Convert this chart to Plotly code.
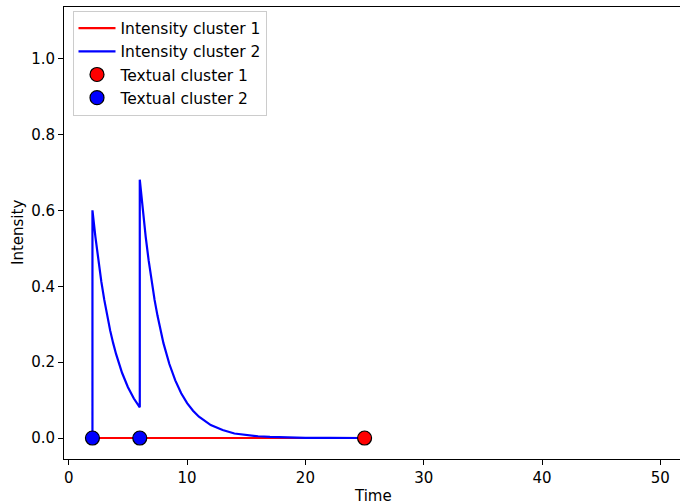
import plotly.graph_objects as go

# ---- data ----
red_time = [2, 25]
red_intensity = [0.0, 0.0]

blue_time = [2, 2, 2.25, 2.5, 2.75, 3, 3.25, 3.5, 3.75, 4, 4.5, 5, 5.5, 6,
             6, 6.25, 6.5, 6.75, 7, 7.25, 7.5, 7.75, 8, 8.5, 9, 9.5, 10, 10.5,
             11, 12, 13, 14, 15, 16, 17, 18, 20, 22, 25]
blue_intensity = [0.0, 0.600, 0.530, 0.467, 0.412, 0.364, 0.321, 0.283, 0.250,
                  0.221, 0.172, 0.134, 0.104, 0.081,
                  0.681, 0.601, 0.530, 0.468, 0.413, 0.364, 0.322, 0.284, 0.250,
                  0.195, 0.152, 0.118, 0.092, 0.072, 0.056, 0.034, 0.021, 0.012,
                  0.0075, 0.0046, 0.0028, 0.0017, 0.0006, 0.0002, 0.0]

text1_time = [25]
text1_val = [0.0]
text2_time = [2, 6]
text2_val = [0.0, 0.0]

x_ticks = [0, 10, 20, 30, 40, 50]
y_ticks = [0.0, 0.2, 0.4, 0.6, 0.8, 1.0]

FONT = "DejaVu Sans"
FS = 15

fig = go.Figure()
fig.add_trace(go.Scatter(x=red_time, y=red_intensity, mode="lines",
                         line=dict(color="#ff0000", width=2.2),
                         name="Intensity cluster 1", legendgroup="a"))
fig.add_trace(go.Scatter(x=blue_time, y=blue_intensity, mode="lines",
                         line=dict(color="#0000ff", width=2.2),
                         name="Intensity cluster 2", legendgroup="b"))
fig.add_trace(go.Scatter(x=text1_time, y=text1_val, mode="markers",
                         marker=dict(color="#ff0000", size=14,
                                     line=dict(color="black", width=1.2)),
                         name="Textual cluster 1", legendgroup="c"))
fig.add_trace(go.Scatter(x=text2_time, y=text2_val, mode="markers",
                         marker=dict(color="#0000ff", size=14,
                                     line=dict(color="black", width=1.2)),
                         name="Textual cluster 2", legendgroup="d"))

fig.update_layout(
    width=680, height=504,
    margin=dict(l=63.5, r=0, t=7, b=44.7),
    paper_bgcolor="white", plot_bgcolor="white",
    font=dict(family=FONT, size=FS, color="black"),
    showlegend=True,
    legend=dict(x=0.0138, y=0.992, xanchor="left", yanchor="top",
                bgcolor="rgba(255,255,255,0.8)", bordercolor="#cccccc",
                borderwidth=1, font=dict(family=FONT, size=15.5),
                traceorder="grouped", tracegroupgap=0, itemwidth=37),
    xaxis=dict(range=[-0.405, 51.66], tickvals=x_ticks, ticks="outside",
               ticklen=5, tickwidth=1, tickcolor="black",
               showline=True, linecolor="black", linewidth=1, mirror=True,
               showgrid=False, zeroline=False,
               tickfont=dict(family=FONT, size=FS)),
    yaxis=dict(range=[-0.0553, 1.136], tickvals=y_ticks, tickformat=".1f",
               ticks="outside", ticklen=5, tickwidth=1, tickcolor="black",
               showline=True, linecolor="black", linewidth=1, mirror=False,
               showgrid=False, zeroline=False,
               tickfont=dict(family=FONT, size=FS)),
    annotations=[
        dict(text="Time", xref="paper", yref="paper", x=0.502, y=0,
             xanchor="center", yanchor="middle", yshift=-37, showarrow=False,
             font=dict(family=FONT, size=FS)),
        dict(text="Intensity", xref="paper", yref="paper", x=0, y=0.5,
             xanchor="center", yanchor="middle", xshift=-46, textangle=-90,
             showarrow=False, font=dict(family=FONT, size=FS)),
    ],
)

fig.write_html(
    "out.html",
    config={"displayModeBar": False},
    post_script=("document.body.style.margin='0';"
                 "document.body.style.overflow='hidden';"
                 "document.documentElement.style.overflow='hidden';"),
)
